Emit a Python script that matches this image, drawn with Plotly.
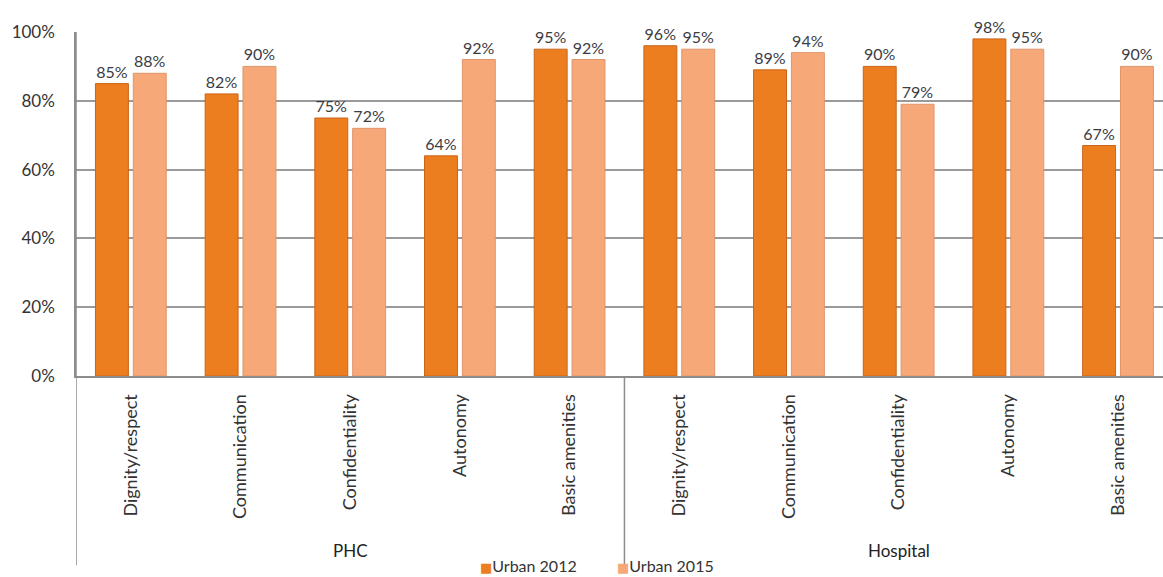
import plotly.graph_objects as go

# Patient-experience domains, repeated for each facility type
domains = ["Dignity/respect", "Communication", "Confidentiality", "Autonomy", "Basic amenities"]
facilities = ["PHC", "Hospital"]
tick_labels = domains + domains

# Share of respondents (%) per domain: PHC first, then Hospital
urban_2012 = [85, 82, 75, 64, 95, 96, 89, 90, 98, 67]
urban_2015 = [88, 90, 72, 92, 92, 95, 94, 79, 95, 90]

y_ticks = [0, 20, 40, 60, 80, 100]

series_names = ["Urban 2012", "Urban 2015"]
series_colors = ["#EC7E1F", "#F7A878"]
edge_colors = ["#C9651A", "#E0946A"]

positions = list(range(len(tick_labels)))
FONT = "Lato"
TEXT_COLOR = "#3c3c44"

fig = go.Figure()
for name, values, color, edge in zip(series_names, [urban_2012, urban_2015],
                                     series_colors, edge_colors):
    fig.add_trace(go.Bar(
        x=positions, y=values, name=name,
        marker=dict(color=color, line=dict(color=edge, width=1)),
        texttemplate="%{y}%", textposition="outside",
        textfont=dict(family=FONT, size=16, color=TEXT_COLOR),
        cliponaxis=False,
    ))

# Vertical divider lines: left axis extension and PHC/Hospital separator
for xv in (-0.5, 4.5):
    fig.add_shape(type="line", xref="x", yref="paper",
                  x0=xv, x1=xv, y0=-0.55, y1=0 if xv == 4.5 else 1,
                  line=dict(color="#8c8c8c", width=1.5))

# Facility group labels under the domain labels
for i, fac in enumerate(facilities):
    fig.add_annotation(x=2 + 5 * i, y=-0.506, xref="x", yref="paper",
                       text=fac, showarrow=False, yanchor="middle",
                       font=dict(family=FONT, size=17, color="#222222"))

# Compact key below the chart: coloured square followed by the series name
for name, color, xp in zip(series_names, series_colors, [0.371, 0.497]):
    fig.add_annotation(
        x=xp, y=-0.552, xref="paper", yref="paper", xanchor="left", yanchor="middle",
        text=f"<span style='color:{color};font-family:DejaVu Sans;font-size:13px'>■</span>{name}",
        showarrow=False, borderpad=0,
        font=dict(family=FONT, size=16, color="#333333"),
    )

fig.update_layout(
    width=1163, height=577, autosize=False,
    margin=dict(l=76, r=0, t=32, b=201, autoexpand=False),
    paper_bgcolor="white", plot_bgcolor="white",
    barmode="group", bargap=0.31, bargroupgap=0.13,
    font=dict(family=FONT, size=16, color=TEXT_COLOR),
    showlegend=False,
)
fig.update_xaxes(
    range=[-0.5, 9.41], tickmode="array", tickvals=positions, ticktext=tick_labels,
    tickangle=-90, tickfont=dict(family=FONT, size=18, color="#333333"),
    ticklabelstandoff=9, automargin=False,
    showline=True, linecolor="#8c8c8c", linewidth=2, showgrid=False, ticks="",
    fixedrange=True,
)
fig.update_yaxes(
    range=[0, 100], tickmode="array", tickvals=y_ticks,
    ticktext=[f"{v}%" for v in y_ticks], ticklabelstandoff=16, automargin=False,
    tickfont=dict(family=FONT, size=17, color="#333333"),
    showgrid=True, gridcolor="#9a9a9a", gridwidth=1.5, zeroline=False,
    showline=True, linecolor="#8c8c8c", linewidth=1.5, ticks="",
    fixedrange=True,
)

fig.write_html("out.html")
